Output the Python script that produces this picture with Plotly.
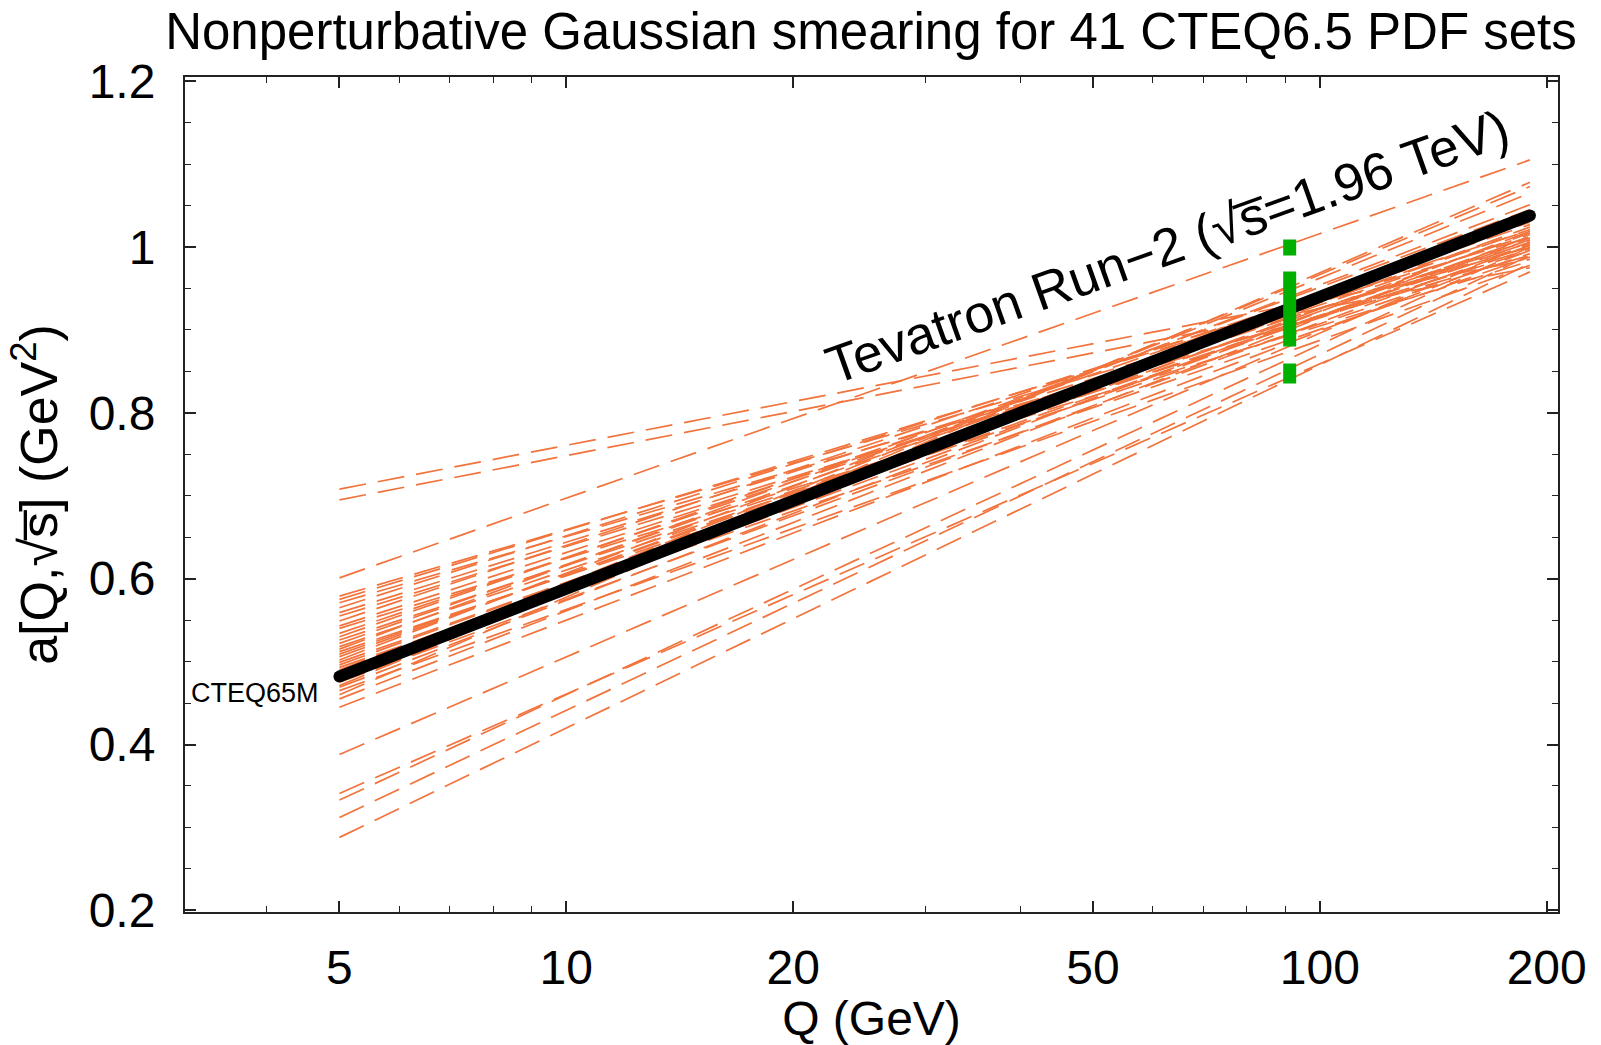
import plotly.graph_objects as go

# ---------------- data ----------------
q_ends = [5, 190]                     # Q range of every curve (GeV)
central_name = "CTEQ65M"
central_vals = [0.482, 1.038]         # a at Q=5 and Q=190 for CTEQ65M

# 40 eigenvector sets: a(Q=5) and a(Q=190)
set_start = [0.708, 0.695, 0.601,
             0.579, 0.575, 0.571, 0.565, 0.559, 0.555, 0.549, 0.543,
             0.540, 0.534, 0.530, 0.526, 0.522, 0.518, 0.515, 0.512,
             0.509, 0.506, 0.502, 0.499, 0.496, 0.493, 0.490, 0.487,
             0.484, 0.475, 0.471, 0.469, 0.465, 0.460, 0.455, 0.445,
             0.388, 0.341, 0.333, 0.312, 0.288]
set_end = [0.985, 0.975, 1.105,
           1.000, 1.012, 0.990, 1.020, 1.005, 0.995, 1.027, 1.008,
           0.983, 1.015, 1.030, 0.998, 1.021, 1.003, 1.045, 0.992,
           1.011, 1.024, 1.051, 1.006, 1.017, 0.988, 1.032, 1.009,
           1.065, 1.002, 1.073, 1.019, 0.978, 1.078, 1.013, 0.996,
           1.005, 0.970, 1.000, 0.990, 0.980]

mz_q = [91.19, 91.19]                 # Z-pole marker
mz_span = [1.009, 0.8355]

x_tickvals = [5, 10, 20, 50, 100, 200]
x_ticktext = ["5", "10", "20", "50", "100", "200"]
x_minor = [4, 6, 7, 8, 9, 30, 40, 60, 70, 80, 90]
y_tickvals = [0.2, 0.4, 0.6, 0.8, 1.0, 1.2]
y_ticktext = ["0.2", "0.4", "0.6", "0.8", "1", "1.2"]
y_minor = [0.25, 0.3, 0.35, 0.45, 0.5, 0.55, 0.65, 0.7, 0.75, 0.85, 0.9, 0.95, 1.05, 1.1, 1.15]

title_text = "Nonperturbative Gaussian smearing for 41 CTEQ6.5 PDF sets"
label_text = "Tevatron Run−2 (√s\u0305=1.96 TeV)"
ytitle_text = "a[Q,√s\u0305] (GeV<sup>2</sup>)"

FONT = "Liberation Sans, Arial, Helvetica, sans-serif"

fig = go.Figure()

for s, e in zip(set_start, set_end):
    fig.add_trace(go.Scatter(
        x=q_ends, y=[s, e], mode="lines",
        line=dict(color="#f2733c", width=1.7, dash="27px,12px"),
        showlegend=False, hoverinfo="skip"))

fig.add_trace(go.Scatter(
    x=q_ends, y=central_vals, mode="lines+markers",
    line=dict(color="black", width=12),
    marker=dict(color="black", size=12),
    showlegend=False, name=central_name))

fig.add_trace(go.Scatter(
    x=mz_q, y=mz_span, mode="lines",
    line=dict(color="#00b000", width=13, dash="16px,16px,75px,17px,40px,40px"),
    showlegend=False))

axis_common = dict(
    showline=True, linecolor="#222", linewidth=2, mirror="ticks",
    ticks="inside", ticklen=11, tickwidth=1.5, tickcolor="#222",
    showgrid=False, zeroline=False,
    tickfont=dict(family=FONT, size=48, color="black"),
)

fig.update_xaxes(
    type="log", range=[0.494, 2.316],
    tickmode="array", tickvals=x_tickvals, ticktext=x_ticktext,
    minor=dict(tickmode="array", tickvals=x_minor, ticks="inside", ticklen=6,
               tickwidth=1.2, tickcolor="#222", showgrid=False),
    ticklabelstandoff=12,
    title=dict(text="Q (GeV)", font=dict(family=FONT, size=48, color="black"), standoff=6),
    **axis_common)

fig.update_yaxes(
    range=[0.198, 1.205],
    tickmode="array", tickvals=y_tickvals, ticktext=y_ticktext,
    minor=dict(tickmode="array", tickvals=y_minor, ticks="inside", ticklen=6,
               tickwidth=1.2, tickcolor="#222", showgrid=False),
    ticklabelstandoff=18,
    title=dict(text=ytitle_text,
               font=dict(family=FONT, size=52, color="black"), standoff=14),
    **axis_common)

fig.add_annotation(x=1.797, y=1.001, xref="x", yref="y", text=label_text,
                   showarrow=False, textangle=-19.6,
                   font=dict(family=FONT, size=53, color="black"),
                   xanchor="center", yanchor="middle")

fig.add_annotation(x=0.6745, y=0.462, xref="x", yref="y", text=central_name,
                   showarrow=False, xanchor="right", yanchor="middle",
                   font=dict(family=FONT, size=27, color="black"))

fig.update_layout(
    width=1601, height=1045, autosize=False,
    margin=dict(l=185, r=43, t=77, b=118),
    paper_bgcolor="white", plot_bgcolor="white",
    title=dict(text=title_text, x=0.544, xanchor="center", y=0.970, yanchor="middle",
               font=dict(family=FONT, size=51, color="black")),
)

fig.write_html("out.html")
